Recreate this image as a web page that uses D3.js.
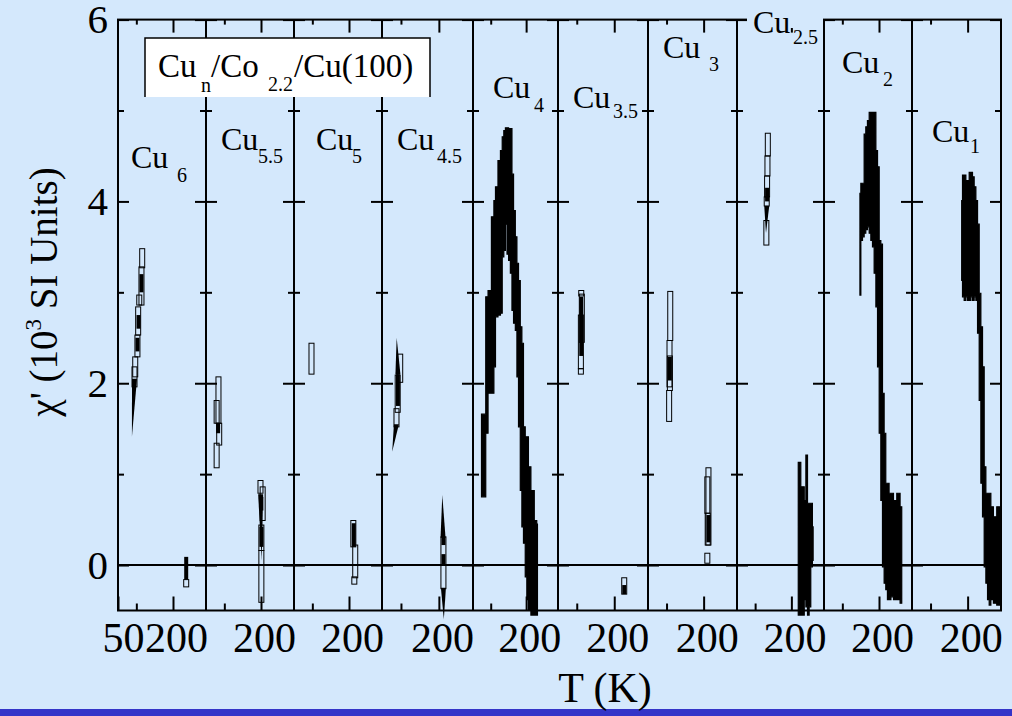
<!DOCTYPE html>
<html><head><meta charset="utf-8">
<script src="https://cdn.jsdelivr.net/npm/d3@7"></script>
<style>
html,body{margin:0;padding:0;background:#d4e8fc;}
svg{display:block;}
text{font-family:"Liberation Serif","Times New Roman",Times,serif;fill:#000;}
</style></head><body>
<svg id="c" width="1012" height="716"></svg>
<script>
// ---------------- data ----------------
const panelSubs = ["6","5.5","5","4.5","4","3.5","3","2.5","2","1"];
const tDomain = [50, 290];
const chiDomain = [-0.5, 6];
const yMajorTicks = [0, 2, 4, 6];
const yMinorTicks = [1, 3, 5];
const xMajorTicks = [200];
const xMinorTicks = [100];
const xLabelsFirst = [50, 200];
const xLabelsOther = [200];

// open markers [T, chiLow, chiHigh]
const cu6Open  = [[116,3.27,3.48],[114,2.86,3.28],[108,2.86,2.97],[105,2.53,2.84],[103,2.29,2.53],[97,2.07,2.29],[95,1.96,2.18],[236,-0.24,-0.16]];
const cu55Open = [[84,1.56,2.07],[79,1.56,1.81],[86,1.32,1.56],[79,1.07,1.34],[198.6,0.79,0.93],[204.5,0.49,0.86],[201,0.16,0.44],[201,-0.41,0.16]];
const cu5Open  = [[97.7,2.10,2.44],[211.8,0.20,0.49],[217,-0.14,0.22],[214.5,-0.21,-0.13]];
const cu45Open = [[98,2.01,2.32],[91.4,1.68,2.09],[88.2,1.52,1.72],[212,-0.26,0.31]];
const cu35Open = [[112,2.96,3.02],[113.5,2.45,2.98],[111,2.16,2.75],[111,2.10,2.16],[226.6,-0.32,-0.14]];
const cu3Open  = [[110,2.47,3.01],[108,1.96,2.47],[109,1.92,2.30],[107,1.58,1.92],[213,0.22,1.07],[210,0.57,0.97],[211,0.22,0.57],[210,0.02,0.13]];
const cu25Open = [[135,4.50,4.75],[134,4.28,4.50],[133,4.05,4.28],[132,3.95,4.05],[131,3.52,3.79]];

// filled markers [T, chiLow, chiHigh]
const cu6Fill  = [[114,3.00,3.20],[106,2.60,2.75],[103,2.35,2.50],[236,-0.16,0.09]];
const cu55Fill = [[83,1.45,1.56],[201,0.60,0.75],[201,0.20,0.42]];
const cu5Fill  = [[213,0.20,0.46]];
const cu45Fill = [[92,1.75,2.10],[212,0.22,0.31],[212,0.00,0.12]];
const cu35Fill = [[112,2.30,2.95],[226.6,-0.32,-0.22]];
const cu3Fill  = [[109,2.03,2.29],[213,0.25,0.55]];
const cu25Fill = [[133,4.00,4.15]];

// wedge traces [T base, chi base, T tip, chi tip]
const cu6Wedge  = [[95,2.05,88,1.41]];
const cu55Wedge = [[199,0.78,202,0.05]];
const cu45Wedge = [[92,2.10,88.7,2.50],[88,1.55,77,1.25],[211,0.30,209,0.77],[212,-0.25,213,-0.60]];
const cu25Wedge = [[132,3.95,130,3.65]];

// dense data bands: T, lower chi, upper chi
const cu4T  = [74,84,88,97,107,111,116,125,130,135,139,144,148,153,158,162,167,172,176,181,186,190,195,200,204,209,218,228,232];
const cu4Lo = [0.75,0.75,1.45,1.89,1.89,2.18,2.73,2.75,2.77,3.39,3.46,3.75,3.42,3.35,3.21,2.80,2.66,2.58,2.07,1.52,0.82,0.42,0.24,-0.13,-0.38,-0.50,-0.55,-0.55,-0.55];
const cu4Hi = [1.66,1.66,2.95,3.02,3.83,4.01,4.16,4.45,4.56,4.71,4.78,4.81,4.81,4.80,4.80,4.30,3.90,3.61,3.32,3.13,2.62,2.44,1.52,1.41,1.41,1.08,0.82,0.49,0.45];

const cu25T  = [219,224,228,233,238,242,247,251,256,260];
const cu25Lo = [-0.55,-0.55,-0.55,-0.55,-0.38,-0.46,-0.55,-0.46,-0.02,0.05];
const cu25Hi = [1.13,1.13,0.86,0.86,0.71,1.21,0.68,0.68,0.68,0.42];

const cu2T  = [148,153,157,162,166,171,175.5,180,184.5,189,194,198,203,207,212,216,221,225,230,235,244,253,262];
const cu2Lo = [2.97,3.57,3.61,3.65,3.69,3.72,3.65,3.57,3.50,3.21,2.84,2.18,1.45,0.71,-0.02,-0.20,-0.27,-0.38,-0.38,-0.35,-0.38,-0.38,-0.42];
const cu2Hi = [4.09,4.20,4.20,4.74,4.82,4.89,4.98,4.98,4.98,4.98,4.56,4.38,3.57,3.53,1.89,1.45,0.90,0.90,0.79,0.79,0.71,0.79,0.64];

const cu1T  = [184,188.4,193,197.5,202,206.4,211,215.3,220,224.5,229,233.4,238,242.3,247,251.4,256,260.3,265,274,283,289];
const cu1Lo = [3.13,2.95,2.91,2.95,2.91,2.91,2.95,2.91,2.95,2.91,2.55,1.81,0.90,0.53,-0.02,-0.20,-0.38,-0.44,-0.38,-0.42,-0.44,-0.44];
const cu1Hi = [4.01,4.29,4.29,4.23,4.23,4.32,4.32,4.27,4.16,4.01,3.75,2.99,2.62,2.18,1.08,0.79,0.79,0.79,0.64,0.53,0.64,0.49];

// ---------------- layout ----------------
const W = 1012, H = 716;
const edges = [118,206,294,382,473,558,648,737,824,912,1001];
const plotTop = 19.6, plotBot = 610.5;
// label positions [CuX, CuBaseline, subX, subBaseline]
const labelPos = [[131,168,177,182],[221,150,258,163],[316,150,352,163],[397,150,437,163],[493,98,534,112],
                  [573,108,613,118],[663,58,709,71],[753,33,793,44],[842,73,883,86],[932,142,970,153]];

const band = (T,lo,hi)=>T.map((t,i)=>[t,lo[i],hi[i]]);
const panels = [
  {open:cu6Open,  fill:cu6Fill,  wedge:cu6Wedge,  band:null},
  {open:cu55Open, fill:cu55Fill, wedge:cu55Wedge, band:null},
  {open:cu5Open,  fill:cu5Fill,  wedge:[],        band:null},
  {open:cu45Open, fill:cu45Fill, wedge:cu45Wedge, band:null},
  {open:[],       fill:[],       wedge:[],        band:band(cu4T,cu4Lo,cu4Hi)},
  {open:cu35Open, fill:cu35Fill, wedge:[],        band:null},
  {open:cu3Open,  fill:cu3Fill,  wedge:[],        band:null},
  {open:cu25Open, fill:cu25Fill, wedge:cu25Wedge, band:band(cu25T,cu25Lo,cu25Hi)},
  {open:[],       fill:[],       wedge:[],        band:band(cu2T,cu2Lo,cu2Hi)},
  {open:[],       fill:[],       wedge:[],        band:band(cu1T,cu1Lo,cu1Hi)}
];

const svg = d3.select("#c");
svg.append("rect").attr("width",W).attr("height",H).attr("fill","#d4e8fc");
svg.append("rect").attr("x",0).attr("y",709).attr("width",W).attr("height",7).attr("fill","#3434c8");

const y = d3.scaleLinear().domain(chiDomain).range([plotBot, plotTop]);

// zero line
svg.append("line").attr("x1",edges[0]).attr("x2",edges[edges.length-1])
  .attr("y1",y(0)).attr("y2",y(0)).attr("stroke","#000").attr("stroke-width",2);

function styleAxis(g, fs){
  g.attr("font-family",null);
  g.select(".domain").remove();
  g.selectAll(".tick line").attr("stroke","#000").attr("stroke-width",2);
  g.selectAll(".tick text").attr("font-size",fs).attr("fill","#000");
}

panels.forEach((p,i)=>{
  const x = d3.scaleLinear().domain(tDomain).range([edges[i], edges[i+1]]);
  const g = svg.append("g");
  if (p.band){
    g.append("path").datum(p.band)
      .attr("d", d3.area().curve(d3.curveStep).x(d=>x(d[0])).y0(d=>y(d[1])).y1(d=>y(d[2])))
      .attr("fill","#000").attr("stroke","#000").attr("stroke-width",1.2);
  }
  g.selectAll(".w").data(p.wedge).join("path")
    .attr("d", d=>`M${x(d[0])-2.5},${y(d[1])}L${x(d[0])+2.5},${y(d[1])}L${x(d[2])},${y(d[3])}Z`)
    .attr("fill","#000");
  g.selectAll(".f").data(p.fill).join("rect")
    .attr("x", d=>x(d[0])-2).attr("width",4)
    .attr("y", d=>y(d[2])).attr("height", d=>y(d[1])-y(d[2]))
    .attr("fill","#000");
  g.selectAll(".o").data(p.open).join("rect")
    .attr("x", d=>x(d[0])-2.5).attr("width",5)
    .attr("y", d=>y(d[2])).attr("height", d=>y(d[1])-y(d[2]))
    .attr("fill","none").attr("stroke","#000").attr("stroke-width",1);

  // axes
  const ax = svg.append("g");
  ax.append("g").attr("transform",`translate(0,${plotBot})`)
    .call(d3.axisBottom(x).tickValues(i===0?xLabelsFirst:xLabelsOther).tickSize(-14).tickPadding(12).tickFormat(d3.format("d")))
    .call(g=>styleAxis(g,42))
    .call(g=>g.selectAll(".tick text").attr("dx", d=>d===50?5:3));
  ax.append("g").attr("transform",`translate(0,${plotBot})`)
    .call(d3.axisBottom(x).tickValues(xMinorTicks).tickSize(-7).tickFormat(""))
    .call(g=>styleAxis(g,42));
  ax.append("g").attr("transform",`translate(0,${plotTop})`)
    .call(d3.axisTop(x).tickValues(xMajorTicks).tickSize(-13).tickFormat(""))
    .call(g=>styleAxis(g,42));
  ax.append("g").attr("transform",`translate(0,${plotTop})`)
    .call(d3.axisTop(x).tickValues(xMinorTicks).tickSize(-5).tickFormat(""))
    .call(g=>styleAxis(g,42));
  ax.append("g").attr("transform",`translate(${edges[i]},0)`)
    .call(d3.axisLeft(y).tickValues(yMajorTicks).tickSize(-11).tickPadding(10).tickFormat(i===0?d3.format("d"):""))
    .call(g=>styleAxis(g,41));
  ax.append("g").attr("transform",`translate(${edges[i]},0)`)
    .call(d3.axisLeft(y).tickValues(yMinorTicks).tickSize(-6).tickFormat(""))
    .call(g=>styleAxis(g,41));
  ax.append("g").attr("transform",`translate(${edges[i+1]},0)`)
    .call(d3.axisRight(y).tickValues(yMajorTicks).tickSize(-11).tickFormat(""))
    .call(g=>styleAxis(g,41));
  ax.append("g").attr("transform",`translate(${edges[i+1]},0)`)
    .call(d3.axisRight(y).tickValues(yMinorTicks).tickSize(-6).tickFormat(""))
    .call(g=>styleAxis(g,41));
});

// frame and dividers
svg.append("rect").attr("x",edges[0]).attr("y",plotTop)
  .attr("width",edges[edges.length-1]-edges[0]).attr("height",plotBot-plotTop)
  .attr("fill","none").attr("stroke","#000").attr("stroke-width",2);
svg.selectAll(".div").data(edges.slice(1,-1)).join("line")
  .attr("x1",d=>d).attr("x2",d=>d).attr("y1",plotTop).attr("y2",plotBot)
  .attr("stroke","#000").attr("stroke-width",2);

// legend box
svg.append("rect").attr("x",145).attr("y",38).attr("width",285).attr("height",59).attr("fill","#fff");
svg.append("path").attr("d","M145,97V38H430V97").attr("fill","none").attr("stroke","#000").attr("stroke-width",1.5);
const bt = (s,xx,yy,fs)=>svg.append("text").attr("x",xx).attr("y",yy).attr("font-size",fs).text(s);
bt("Cu",158,77,33); bt("n",201,92,20); bt("/Co",211,77,33); bt("2.2",268,91,20); bt("/Cu(100)",294,77,33);

// panel labels
svg.append("rect").attr("x",747).attr("y",12).attr("width",76).attr("height",16).attr("fill","#d4e8fc");
panelSubs.forEach((s,i)=>{
  const lp = labelPos[i];
  svg.append("text").attr("x",lp[0]).attr("y",lp[1]).attr("font-size",32).text("Cu");
  svg.append("text").attr("x",lp[2]).attr("y",lp[3]).attr("font-size",20).text(s);
});

// axis titles
const yt = svg.append("text").attr("transform","translate(57,292) rotate(-90)")
  .attr("text-anchor","middle").attr("font-size",39);
yt.append("tspan").text("\u03C7' (10");
yt.append("tspan").attr("font-size",23).attr("dy",-16).text("3");
yt.append("tspan").attr("dy",16).text(" SI Units)");
svg.append("text").attr("x",605).attr("y",702).attr("text-anchor","middle").attr("font-size",42).text("T (K)");
</script>
</body></html>
